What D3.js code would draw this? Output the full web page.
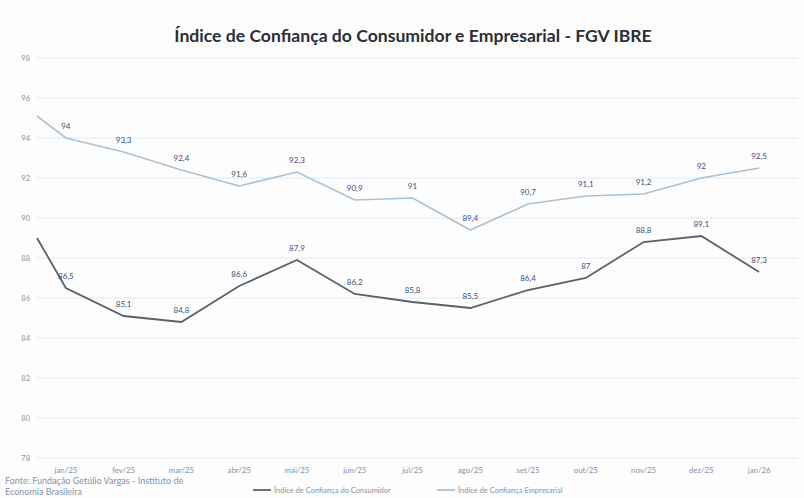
<!DOCTYPE html>
<html>
<head>
<meta charset="utf-8">
<script src="https://cdn.jsdelivr.net/npm/d3@7"></script>
<style>
  html, body { margin: 0; padding: 0; background: #fdfdfd; }
  svg { display: block; }
</style>
</head>
<body>
<svg id="chart" width="804" height="498"></svg>
<script>
// ---- data ----
const months = ["jan/25","fev/25","mar/25","abr/25","mai/25","jun/25","jul/25","ago/25","set/25","out/25","nov/25","dez/25","jan/26"];
const consumer = [86.5, 85.1, 84.8, 86.6, 87.9, 86.2, 85.8, 85.5, 86.4, 87.0, 88.8, 89.1, 87.3];
const business = [94.0, 93.3, 92.4, 91.6, 92.3, 90.9, 91.0, 89.4, 90.7, 91.1, 91.2, 92.0, 92.5];
const consumerStart = 89.0;   // unlabeled starting point at the left edge
const businessStart = 95.1;
const yTicks = [78, 80, 82, 84, 86, 88, 90, 92, 94, 96, 98];
const seriesNames = ["Índice de Confiança do Consumidor", "Índice de Confiança Empresarial"];
const title = "Índice de Confiança do Consumidor e Empresarial - FGV IBRE";
const sourceLines = ["Fonte: Fundação Getúlio Vargas - Instituto de", "Economia Brasileira"];

(function () {
// ---- layout ----
const svg = d3.select("#chart");
const pLeft = 37, pRight = 788, pTop = 58, pBottom = 458;
const font = "Lato, 'Open Sans', sans-serif";
const colConsumer = "#59616e";
const colBusiness = "#a9c1d4";
const labelColor = "#41507a";
const tickColor = "#8593a6";

const x = d3.scaleBand().domain(months).range([pLeft, pRight]);
const y = d3.scaleLinear().domain([78, 98]).range([pBottom, pTop]);
const cx = m => x(m) + x.bandwidth() / 2;
const fmt = v => String(v).replace(".", ",");

// gridlines
svg.append("g").selectAll("line").data(yTicks).join("line")
  .attr("x1", pLeft).attr("x2", 798)
  .attr("y1", d => y(d)).attr("y2", d => y(d))
  .attr("stroke", "#e3e9ef").attr("stroke-width", 1.2);

// y tick labels
svg.append("g").selectAll("text").data(yTicks).join("text")
  .attr("x", 30).attr("y", d => y(d) + 3)
  .attr("text-anchor", "end")
  .attr("font-family", font).attr("font-size", 7.5).attr("fill", tickColor)
  .text(d => d);

// x axis labels
const xAxis = d3.axisBottom(x).tickSize(0).tickPadding(9);
const gx = svg.append("g").attr("transform", `translate(0,${pBottom})`).call(xAxis);
gx.select(".domain").remove();
gx.selectAll("text").attr("font-family", font).attr("font-size", 7.8).attr("fill", tickColor);

// title
svg.append("text")
  .attr("x", 413).attr("y", 42)
  .attr("text-anchor", "middle")
  .attr("font-family", font).attr("font-weight", "bold").attr("font-size", 17.6)
  .attr("fill", "#2b2f36")
  .text(title);

// lines
const line = d3.line().x(d => d.x).y(d => y(d.v));
function pts(start, vals) {
  return [{x: x.range()[0], v: start}].concat(vals.map((v, i) => ({x: cx(months[i]), v})));
}
svg.append("path").datum(pts(businessStart, business))
  .attr("d", line).attr("fill", "none").attr("stroke", colBusiness).attr("stroke-width", 1.6);
svg.append("path").datum(pts(consumerStart, consumer))
  .attr("d", line).attr("fill", "none").attr("stroke", colConsumer).attr("stroke-width", 1.8);

// data labels
function labels(vals) {
  svg.append("g").selectAll("text").data(vals).join("text")
    .attr("x", (d, i) => cx(months[i]))
    .attr("y", d => y(d) - 9)
    .attr("text-anchor", "middle")
    .attr("font-family", font).attr("font-size", 8).attr("fill", labelColor)
    .text(d => fmt(d));
}
labels(business);
labels(consumer);

// source
svg.append("g").selectAll("text").data(sourceLines).join("text")
  .attr("x", 5).attr("y", (d, i) => 484 + i * 11)
  .attr("font-family", font).attr("font-size", 9).attr("fill", tickColor)
  .text(d => d);

// legend
const legend = [
  {name: seriesNames[0], color: colConsumer, x: 253},
  {name: seriesNames[1], color: colBusiness, x: 437}
];
const lg = svg.append("g").selectAll("g").data(legend).join("g")
  .attr("transform", d => `translate(${d.x},490)`);
lg.append("line").attr("x1", 0).attr("x2", 18).attr("y1", 0).attr("y2", 0)
  .attr("stroke", d => d.color).attr("stroke-width", 1.8);
lg.append("text").attr("x", 21).attr("y", 2.5)
  .attr("font-family", font).attr("font-size", 7.5).attr("fill", tickColor)
  .text(d => d.name);
})();
</script>
</body>
</html>
